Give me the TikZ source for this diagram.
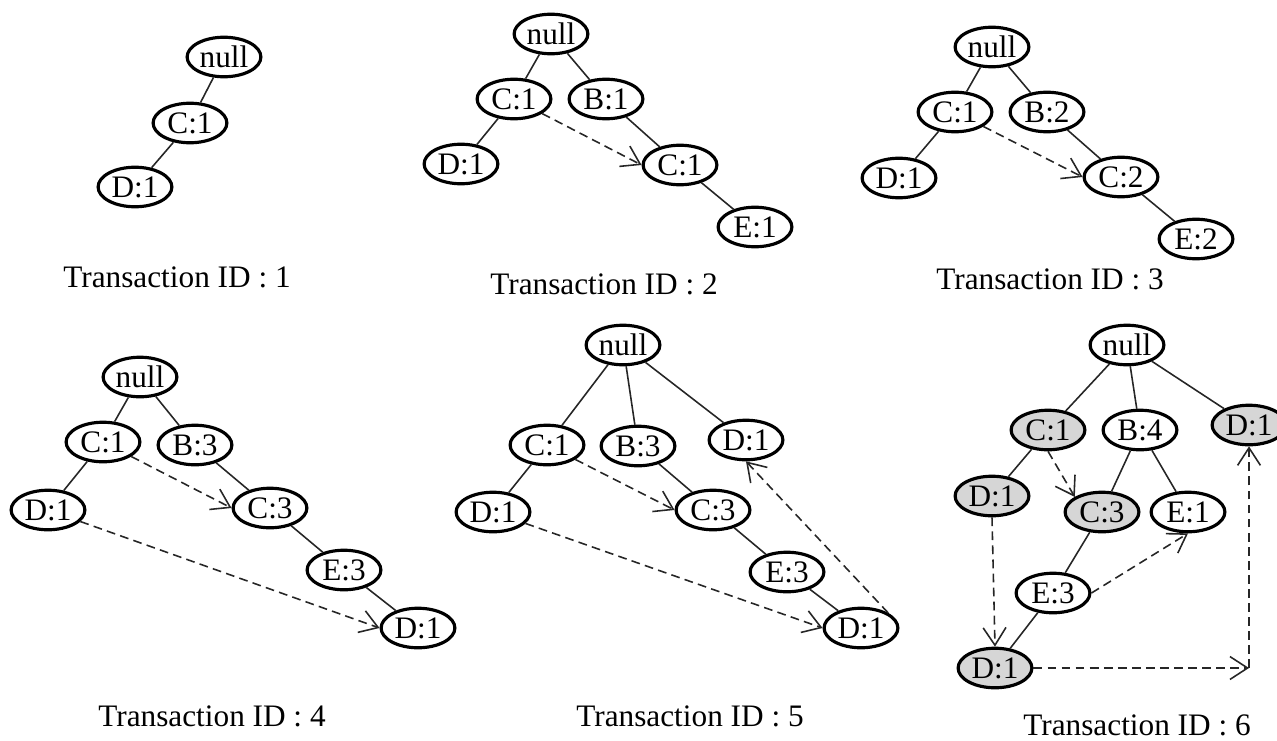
\documentclass[tikz,border=0pt]{standalone}
\usepackage{fontspec}
\setmainfont{Liberation Serif}
\usetikzlibrary{shapes.geometric,arrows.meta}

\definecolor{itemgray}{RGB}{214,214,214}

\begin{document}
\begin{tikzpicture}[x=0.02cm,y=-0.02cm,font=\fontsize{17.8}{21}\selectfont]
            \tikzstyle{item}=[ellipse,draw=black,line width=1.8pt,minimum width=42pt,minimum height=22.5pt,inner sep=0pt]
            \tikzstyle{shaded item}=[item,fill=itemgray]
            \tikzstyle{branch}=[draw=black!85,line width=0.9pt]
            \tikzstyle{link}=[draw=black!85,line width=0.9pt,dash pattern=on 5pt off 3pt,
                -{Straight Barb[length=10pt,width=13pt,line width=0.9pt]}]
            \tikzstyle{caption}=[inner sep=0pt]

            \useasboundingbox (0,0) rectangle (1277,740);

            % Transaction ID : 1
            \node[item] (T1-null) at (224,57) {null};
            \node[item] (T1-C) at (190,123) {C:1};
            \node[item] (T1-CD) at (135,187) {D:1};
            \foreach \from/\to in {null/C,C/CD}
                \path (T1-\from) edge[branch] (T1-\to);
            \node[caption] (cap-1) at (177,277) {Transaction ID : 1};

            % Transaction ID : 2
            \node[item] (T2-null) at (551,34) {null};
            \node[item] (T2-C) at (514,99) {C:1};
            \node[item] (T2-B) at (606,99) {B:1};
            \node[item] (T2-CD) at (461,164) {D:1};
            \node[item] (T2-BC) at (680,165) {C:1};
            \node[item] (T2-BCE) at (755,227) {E:1};
            \foreach \from/\to in {null/C,null/B,C/CD,B/BC,BC/BCE}
                \path (T2-\from) edge[branch] (T2-\to);
            \draw[link] (T2-C) -- (T2-BC.west);
            \node[caption] (cap-2) at (604,284) {Transaction ID : 2};

            % Transaction ID : 3
            \node[item] (T3-null) at (992,47) {null};
            \node[item] (T3-C) at (955,112) {C:1};
            \node[item] (T3-B) at (1047,112) {B:2};
            \node[item] (T3-CD) at (899,178) {D:1};
            \node[item] (T3-BC) at (1121,177) {C:2};
            \node[item] (T3-BCE) at (1196,239) {E:2};
            \foreach \from/\to in {null/C,null/B,C/CD,B/BC,BC/BCE}
                \path (T3-\from) edge[branch] (T3-\to);
            \draw[link] (T3-C) -- (T3-BC.west);
            \node[caption] (cap-3) at (1050,279) {Transaction ID : 3};

            % Transaction ID : 4
            \node[item] (T4-null) at (140,377) {null};
            \node[item] (T4-C) at (103,442) {C:1};
            \node[item] (T4-B) at (195,445) {B:3};
            \node[item] (T4-CD) at (48,510) {D:1};
            \node[item] (T4-BC) at (270,508) {C:3};
            \node[item] (T4-BCE) at (344,570) {E:3};
            \node[item] (T4-BCED) at (418,628) {D:1};
            \foreach \from/\to in {null/C,null/B,C/CD,B/BC,BC/BCE,BCE/BCED}
                \path (T4-\from) edge[branch] (T4-\to);
            \draw[link] (T4-C) -- (T4-BC.west);
            \draw[link] (T4-CD) -- (T4-BCED.west);
            \node[caption] (cap-4) at (212,716) {Transaction ID : 4};

            % Transaction ID : 5
            \node[item] (T5-null) at (623,345) {null};
            \node[item] (T5-C) at (547,445) {C:1};
            \node[item] (T5-B) at (638,446) {B:3};
            \node[item] (T5-D) at (746,440) {D:1};
            \node[item] (T5-CD) at (493,512) {D:1};
            \node[item] (T5-BC) at (713,510) {C:3};
            \node[item] (T5-BCE) at (787,572) {E:3};
            \node[item] (T5-BCED) at (861,628) {D:1};
            \foreach \from/\to in {null/C,null/B,null/D,C/CD,B/BC,BC/BCE,BCE/BCED}
                \path (T5-\from) edge[branch] (T5-\to);
            \draw[link] (T5-C) -- (T5-BC.west);
            \draw[link] (T5-CD) -- (T5-BCED.west);
            \draw[link] (T5-BCED.north east) -- (T5-D.south);
            \node[caption] (cap-5) at (690,716) {Transaction ID : 5};

            % Transaction ID : 6 (shaded: the D paths)
            \node[item] (T6-null) at (1127,345) {null};
            \node[shaded item] (T6-C) at (1048,430) {C:1};
            \node[item] (T6-B) at (1140,430) {B:4};
            \node[shaded item] (T6-D) at (1249,425) {D:1};
            \node[shaded item] (T6-CD) at (992,496) {D:1};
            \node[shaded item] (T6-BC) at (1102,512) {C:3};
            \node[item] (T6-BE) at (1188,512) {E:1};
            \node[item] (T6-BCE) at (1053,593) {E:3};
            \node[shaded item] (T6-BCED) at (995,668) {D:1};
            \coordinate (T6-turn) at (1249,668);
            \foreach \from/\to in {null/C,null/B,null/D,C/CD,B/BC,B/BE,BC/BCE,BCE/BCED}
                \path (T6-\from) edge[branch] (T6-\to);
            \draw[link] (T6-C.south) -- (T6-BC.north west);
            \draw[link] (T6-CD.south) -- (T6-BCED.north);
            \draw[link] (T6-BCE.east) -- (T6-BE.south);
            \draw[link] (T6-BCED.east) -- (T6-turn);
            \draw[link] (T6-turn) -- (T6-D.south);
            \node[caption] (cap-6) at (1137,725) {Transaction ID : 6};
        \end{tikzpicture}
\end{document}
